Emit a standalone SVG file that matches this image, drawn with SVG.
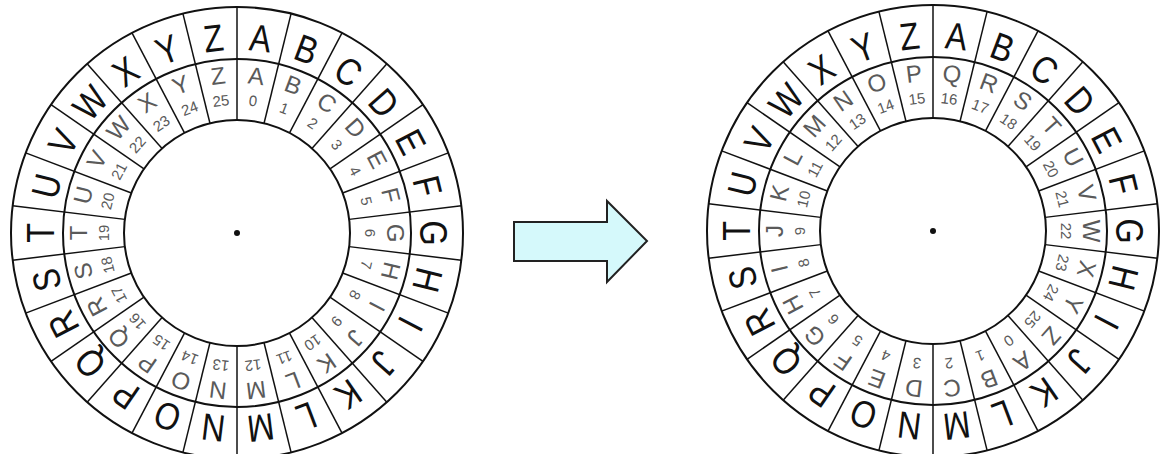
<svg xmlns="http://www.w3.org/2000/svg" xmlns:xlink="http://www.w3.org/1999/xlink" width="1160" height="454" viewBox="0 0 1160 454">
<style>
.ring{fill:none;stroke:#111;stroke-width:2}
.div line{stroke:#111;stroke-width:1.5}
.ol text{font-family:"Liberation Sans",Arial,sans-serif;font-size:38px;fill:#111;text-anchor:middle}
.il{font-family:"Liberation Sans",Arial,sans-serif;font-size:24px;fill:#5a5a5a;text-anchor:middle}
.nm{font-family:"Liberation Sans",Arial,sans-serif;font-size:15px;fill:#5a5a5a;text-anchor:middle}
</style>
<defs>
<g id="dividers" class="div">
<line x1="0" y1="-113" x2="0" y2="-226" transform="rotate(0)"/>
<line x1="0" y1="-113" x2="0" y2="-226" transform="rotate(13.846)"/>
<line x1="0" y1="-113" x2="0" y2="-226" transform="rotate(27.692)"/>
<line x1="0" y1="-113" x2="0" y2="-226" transform="rotate(41.538)"/>
<line x1="0" y1="-113" x2="0" y2="-226" transform="rotate(55.385)"/>
<line x1="0" y1="-113" x2="0" y2="-226" transform="rotate(69.231)"/>
<line x1="0" y1="-113" x2="0" y2="-226" transform="rotate(83.077)"/>
<line x1="0" y1="-113" x2="0" y2="-226" transform="rotate(96.923)"/>
<line x1="0" y1="-113" x2="0" y2="-226" transform="rotate(110.769)"/>
<line x1="0" y1="-113" x2="0" y2="-226" transform="rotate(124.615)"/>
<line x1="0" y1="-113" x2="0" y2="-226" transform="rotate(138.462)"/>
<line x1="0" y1="-113" x2="0" y2="-226" transform="rotate(152.308)"/>
<line x1="0" y1="-113" x2="0" y2="-226" transform="rotate(166.154)"/>
<line x1="0" y1="-113" x2="0" y2="-226" transform="rotate(180)"/>
<line x1="0" y1="-113" x2="0" y2="-226" transform="rotate(193.846)"/>
<line x1="0" y1="-113" x2="0" y2="-226" transform="rotate(207.692)"/>
<line x1="0" y1="-113" x2="0" y2="-226" transform="rotate(221.538)"/>
<line x1="0" y1="-113" x2="0" y2="-226" transform="rotate(235.385)"/>
<line x1="0" y1="-113" x2="0" y2="-226" transform="rotate(249.231)"/>
<line x1="0" y1="-113" x2="0" y2="-226" transform="rotate(263.077)"/>
<line x1="0" y1="-113" x2="0" y2="-226" transform="rotate(276.923)"/>
<line x1="0" y1="-113" x2="0" y2="-226" transform="rotate(290.769)"/>
<line x1="0" y1="-113" x2="0" y2="-226" transform="rotate(304.615)"/>
<line x1="0" y1="-113" x2="0" y2="-226" transform="rotate(318.462)"/>
<line x1="0" y1="-113" x2="0" y2="-226" transform="rotate(332.308)"/>
<line x1="0" y1="-113" x2="0" y2="-226" transform="rotate(346.154)"/>
</g>
<g id="rings">
<circle class="ring" r="226"/>
<circle class="ring" r="174"/>
<circle class="ring" r="113"/>
<circle r="3" fill="#111"/>
</g>
<g id="outer" class="ol">
<text transform="rotate(6.923) translate(0,-183) scale(0.85,1)">A</text>
<text transform="rotate(20.769) translate(0,-183) scale(0.85,1)">B</text>
<text transform="rotate(34.615) translate(0,-183) scale(0.85,1)">C</text>
<text transform="rotate(48.462) translate(0,-183) scale(0.85,1)">D</text>
<text transform="rotate(62.308) translate(0,-183) scale(0.85,1)">E</text>
<text transform="rotate(76.154) translate(0,-183) scale(0.85,1)">F</text>
<text transform="rotate(90) translate(0,-183) scale(0.85,1)">G</text>
<text transform="rotate(103.846) translate(0,-183) scale(0.85,1)">H</text>
<text transform="rotate(117.692) translate(0,-183) scale(0.85,1)">I</text>
<text transform="rotate(131.538) translate(0,-183) scale(0.85,1)">J</text>
<text transform="rotate(145.385) translate(0,-183) scale(0.85,1)">K</text>
<text transform="rotate(159.231) translate(0,-183) scale(0.85,1)">L</text>
<text transform="rotate(173.077) translate(0,-183) scale(0.85,1)">M</text>
<text transform="rotate(186.923) translate(0,-183) scale(0.85,1)">N</text>
<text transform="rotate(200.769) translate(0,-183) scale(0.85,1)">O</text>
<text transform="rotate(214.615) translate(0,-183) scale(0.85,1)">P</text>
<text transform="rotate(228.462) translate(0,-183) scale(0.85,1)">Q</text>
<text transform="rotate(242.308) translate(0,-183) scale(0.85,1)">R</text>
<text transform="rotate(256.154) translate(0,-183) scale(0.85,1)">S</text>
<text transform="rotate(270) translate(0,-183) scale(0.85,1)">T</text>
<text transform="rotate(283.846) translate(0,-183) scale(0.85,1)">U</text>
<text transform="rotate(297.692) translate(0,-183) scale(0.85,1)">V</text>
<text transform="rotate(311.538) translate(0,-183) scale(0.85,1)">W</text>
<text transform="rotate(325.385) translate(0,-183) scale(0.85,1)">X</text>
<text transform="rotate(339.231) translate(0,-183) scale(0.85,1)">Y</text>
<text transform="rotate(353.077) translate(0,-183) scale(0.85,1)">Z</text>
</g>
</defs>

<g id="wheel-left" transform="translate(237,233)">
<use xlink:href="#rings" href="#rings"/>
<use xlink:href="#dividers" href="#dividers"/>
<use xlink:href="#outer" href="#outer"/>
<g id="inner-left">
<text class="il" transform="rotate(6.923) translate(0,-150)">A</text><text class="nm" transform="rotate(6.923) translate(0,-128)">0</text>
<text class="il" transform="rotate(20.769) translate(0,-150)">B</text><text class="nm" transform="rotate(20.769) translate(0,-128)">1</text>
<text class="il" transform="rotate(34.615) translate(0,-150)">C</text><text class="nm" transform="rotate(34.615) translate(0,-128)">2</text>
<text class="il" transform="rotate(48.462) translate(0,-150)">D</text><text class="nm" transform="rotate(48.462) translate(0,-128)">3</text>
<text class="il" transform="rotate(62.308) translate(0,-150)">E</text><text class="nm" transform="rotate(62.308) translate(0,-128)">4</text>
<text class="il" transform="rotate(76.154) translate(0,-150)">F</text><text class="nm" transform="rotate(76.154) translate(0,-128)">5</text>
<text class="il" transform="rotate(90) translate(0,-150)">G</text><text class="nm" transform="rotate(90) translate(0,-128)">6</text>
<text class="il" transform="rotate(103.846) translate(0,-150)">H</text><text class="nm" transform="rotate(103.846) translate(0,-128)">7</text>
<text class="il" transform="rotate(117.692) translate(0,-150)">I</text><text class="nm" transform="rotate(117.692) translate(0,-128)">8</text>
<text class="il" transform="rotate(131.538) translate(0,-150)">J</text><text class="nm" transform="rotate(131.538) translate(0,-128)">9</text>
<text class="il" transform="rotate(145.385) translate(0,-150)">K</text><text class="nm" transform="rotate(145.385) translate(0,-128)">10</text>
<text class="il" transform="rotate(159.231) translate(0,-150)">L</text><text class="nm" transform="rotate(159.231) translate(0,-128)">11</text>
<text class="il" transform="rotate(173.077) translate(0,-150)">M</text><text class="nm" transform="rotate(173.077) translate(0,-128)">12</text>
<text class="il" transform="rotate(186.923) translate(0,-150)">N</text><text class="nm" transform="rotate(186.923) translate(0,-128)">13</text>
<text class="il" transform="rotate(200.769) translate(0,-150)">O</text><text class="nm" transform="rotate(200.769) translate(0,-128)">14</text>
<text class="il" transform="rotate(214.615) translate(0,-150)">P</text><text class="nm" transform="rotate(214.615) translate(0,-128)">15</text>
<text class="il" transform="rotate(228.462) translate(0,-150)">Q</text><text class="nm" transform="rotate(228.462) translate(0,-128)">16</text>
<text class="il" transform="rotate(242.308) translate(0,-150)">R</text><text class="nm" transform="rotate(242.308) translate(0,-128)">17</text>
<text class="il" transform="rotate(256.154) translate(0,-150)">S</text><text class="nm" transform="rotate(256.154) translate(0,-128)">18</text>
<text class="il" transform="rotate(270) translate(0,-150)">T</text><text class="nm" transform="rotate(270) translate(0,-128)">19</text>
<text class="il" transform="rotate(283.846) translate(0,-150)">U</text><text class="nm" transform="rotate(283.846) translate(0,-128)">20</text>
<text class="il" transform="rotate(297.692) translate(0,-150)">V</text><text class="nm" transform="rotate(297.692) translate(0,-128)">21</text>
<text class="il" transform="rotate(311.538) translate(0,-150)">W</text><text class="nm" transform="rotate(311.538) translate(0,-128)">22</text>
<text class="il" transform="rotate(325.385) translate(0,-150)">X</text><text class="nm" transform="rotate(325.385) translate(0,-128)">23</text>
<text class="il" transform="rotate(339.231) translate(0,-150)">Y</text><text class="nm" transform="rotate(339.231) translate(0,-128)">24</text>
<text class="il" transform="rotate(353.077) translate(0,-150)">Z</text><text class="nm" transform="rotate(353.077) translate(0,-128)">25</text>
</g>
</g>

<g id="arrow">
<polygon points="514,222 607,222 607,201 647,241 607,282 607,261 514,261" fill="#d5f9fb" stroke="#222" stroke-width="2" stroke-linejoin="miter"/>
</g>

<g id="wheel-right" transform="translate(933,231)">
<use xlink:href="#rings" href="#rings"/>
<use xlink:href="#dividers" href="#dividers"/>
<use xlink:href="#outer" href="#outer"/>
<g id="inner-right">
<text class="il" transform="rotate(6.923) translate(0,-150)">Q</text><text class="nm" transform="rotate(6.923) translate(0,-128)">16</text>
<text class="il" transform="rotate(20.769) translate(0,-150)">R</text><text class="nm" transform="rotate(20.769) translate(0,-128)">17</text>
<text class="il" transform="rotate(34.615) translate(0,-150)">S</text><text class="nm" transform="rotate(34.615) translate(0,-128)">18</text>
<text class="il" transform="rotate(48.462) translate(0,-150)">T</text><text class="nm" transform="rotate(48.462) translate(0,-128)">19</text>
<text class="il" transform="rotate(62.308) translate(0,-150)">U</text><text class="nm" transform="rotate(62.308) translate(0,-128)">20</text>
<text class="il" transform="rotate(76.154) translate(0,-150)">V</text><text class="nm" transform="rotate(76.154) translate(0,-128)">21</text>
<text class="il" transform="rotate(90) translate(0,-150)">W</text><text class="nm" transform="rotate(90) translate(0,-128)">22</text>
<text class="il" transform="rotate(103.846) translate(0,-150)">X</text><text class="nm" transform="rotate(103.846) translate(0,-128)">23</text>
<text class="il" transform="rotate(117.692) translate(0,-150)">Y</text><text class="nm" transform="rotate(117.692) translate(0,-128)">24</text>
<text class="il" transform="rotate(131.538) translate(0,-150)">Z</text><text class="nm" transform="rotate(131.538) translate(0,-128)">25</text>
<text class="il" transform="rotate(145.385) translate(0,-150)">A</text><text class="nm" transform="rotate(145.385) translate(0,-128)">0</text>
<text class="il" transform="rotate(159.231) translate(0,-150)">B</text><text class="nm" transform="rotate(159.231) translate(0,-128)">1</text>
<text class="il" transform="rotate(173.077) translate(0,-150)">C</text><text class="nm" transform="rotate(173.077) translate(0,-128)">2</text>
<text class="il" transform="rotate(186.923) translate(0,-150)">D</text><text class="nm" transform="rotate(186.923) translate(0,-128)">3</text>
<text class="il" transform="rotate(200.769) translate(0,-150)">E</text><text class="nm" transform="rotate(200.769) translate(0,-128)">4</text>
<text class="il" transform="rotate(214.615) translate(0,-150)">F</text><text class="nm" transform="rotate(214.615) translate(0,-128)">5</text>
<text class="il" transform="rotate(228.462) translate(0,-150)">G</text><text class="nm" transform="rotate(228.462) translate(0,-128)">6</text>
<text class="il" transform="rotate(242.308) translate(0,-150)">H</text><text class="nm" transform="rotate(242.308) translate(0,-128)">7</text>
<text class="il" transform="rotate(256.154) translate(0,-150)">I</text><text class="nm" transform="rotate(256.154) translate(0,-128)">8</text>
<text class="il" transform="rotate(270) translate(0,-150)">J</text><text class="nm" transform="rotate(270) translate(0,-128)">9</text>
<text class="il" transform="rotate(283.846) translate(0,-150)">K</text><text class="nm" transform="rotate(283.846) translate(0,-128)">10</text>
<text class="il" transform="rotate(297.692) translate(0,-150)">L</text><text class="nm" transform="rotate(297.692) translate(0,-128)">11</text>
<text class="il" transform="rotate(311.538) translate(0,-150)">M</text><text class="nm" transform="rotate(311.538) translate(0,-128)">12</text>
<text class="il" transform="rotate(325.385) translate(0,-150)">N</text><text class="nm" transform="rotate(325.385) translate(0,-128)">13</text>
<text class="il" transform="rotate(339.231) translate(0,-150)">O</text><text class="nm" transform="rotate(339.231) translate(0,-128)">14</text>
<text class="il" transform="rotate(353.077) translate(0,-150)">P</text><text class="nm" transform="rotate(353.077) translate(0,-128)">15</text>
</g>
</g>
</svg>
